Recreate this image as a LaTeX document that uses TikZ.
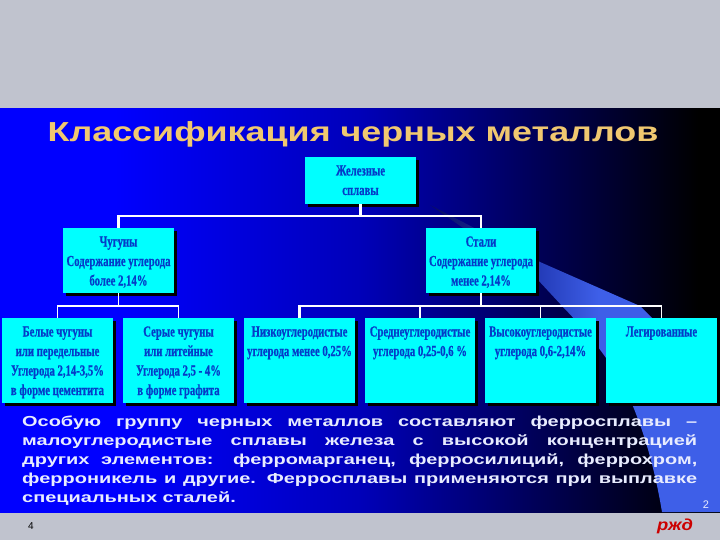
\documentclass[tikz,border=0pt]{standalone}
\usepackage{fontspec}
\usetikzlibrary{shadows,calc}
\setmainfont{Liberation Serif}
\newfontfamily\boxfont[FakeStretch=0.70,FakeBold=0.5]{Liberation Serif Bold}
\newfontfamily\titlefont[FakeStretch=1.305]{Liberation Sans Bold}
\newfontfamily\parafont[FakeStretch=1.375]{Liberation Sans Bold}
\newfontfamily\smallfont{Liberation Sans}
\newfontfamily\logofont[FakeStretch=1.15]{Liberation Sans Bold Italic}
\definecolor{slidegray}{RGB}{192,195,206}
\definecolor{boxcyan}{RGB}{0,255,255}
\definecolor{boxtext}{RGB}{5,60,200}
\definecolor{titlegold}{RGB}{240,200,112}
\definecolor{wedge}{RGB}{62,95,232}
\definecolor{paper}{RGB}{232,236,255}
\definecolor{bandA}{RGB}{0,0,185}
\definecolor{bandB}{RGB}{0,0,85}
\definecolor{wedgeA}{RGB}{8,12,100}
\definecolor{wedgeB}{RGB}{36,60,185}
\pgfdeclarehorizontalshading{bandshade}{100bp}{
  color(0bp)=(blue); color(25bp)=(blue); color(33bp)=(blue);
  color(50bp)=(bandA);
  color(62.5bp)=(bandB);
  color(73.5bp)=(black); color(100bp)=(black)}
\pgfdeclarehorizontalshading{wedgeshade}{100bp}{
  color(0bp)=(wedgeA);
  color(25bp)=(wedgeA);
  color(44bp)=(wedgeB);
  color(54bp)=(wedge); color(100bp)=(wedge)}
\newcommand{\boxbody}[3]{\parbox[c][#2pt][t]{#1pt}{\centering\boxfont\fontsize{15.3}{19.5}\selectfont #3\par}}
\newcommand{\fl}{\rule{0pt}{18.5pt}}
\tikzset{
  cbox/.style={fill=boxcyan,inner sep=0pt,outer sep=0pt,text=boxtext,
    drop shadow={shadow xshift=3pt,shadow yshift=-3pt,fill=black,opacity=1}},
  wire/.style={draw=white,line width=1.7pt},
  wirethick/.style={draw=white,line width=2.3pt},
  para/.style={anchor=base west,inner sep=0pt,text=paper,font=\parafont\fontsize{14.5}{16}\selectfont},
}
\begin{document}
\begin{tikzpicture}[x=1pt,y=-1pt]
\useasboundingbox (0,0) rectangle (720,540);
\fill[slidegray] (0,0) rectangle (720,540);
% band
\shade[shading=bandshade] (0,109) rectangle (720,512);
% wedge
\shade[shading=wedgeshade]
  (430,205) -- (540,262) -- (640,306) -- (720,385) -- (720,512) -- (662,512)
  .. controls (655,470) and (645,435) .. (632,404)
  .. controls (615,365) and (590,335) .. (563,307) -- (538,280) -- cycle;
% title
\node[anchor=base,inner sep=0pt,text=titlegold,font=\titlefont\fontsize{27.5}{30}\selectfont] (title) at (353,142)
  {Классификация черных металлов};
% boxes
\node[cbox] (root) at (360.5,180.5) {\boxbody{111}{47}{\fl Железные\\сплавы}};
\node[cbox] (chug) at (118.5,260.5) {\boxbody{111}{65}{\fl Чугуны\\Содержание углерода\\более 2,14\%}};
\node[cbox] (stal) at (481,260.5) {\boxbody{110}{65}{\fl Стали\\Содержание углерода\\менее 2,14\%}};
\node[cbox] (b1) at (57.5,360.5) {\boxbody{111}{85}{\fl Белые чугуны\\или передельные\\Углерода 2,14-3,5\%\\в форме цементита}};
\node[cbox] (b2) at (178.5,360.5) {\boxbody{111}{85}{\fl Серые чугуны\\или литейные\\Углерода 2,5 - 4\%\\в форме графита}};
\node[cbox] (b3) at (299.5,360.5) {\boxbody{111}{85}{\fl Низкоуглеродистые\\углерода менее 0,25\%}};
\node[cbox] (b4) at (420,360.5) {\boxbody{110}{85}{\fl Среднеуглеродистые\\углерода 0,25-0,6 \%}};
\node[cbox] (b5) at (540.5,360.5) {\boxbody{111}{85}{\fl Высокоуглеродистые\\углерода 0,6-2,14\%}};
\node[cbox] (b6) at (661.5,360.5) {\boxbody{111}{85}{\fl Легированные}};
% connectors
\coordinate (j0) at (360.5,216);
\coordinate (j1) at (118.5,306);
\coordinate (j2) at (481,306);
\draw[wirethick] (root.south) -- (j0);
\draw[wirethick] (chug.north) |- (j0);
\draw[wirethick] (stal.north) |- (j0);
\draw[wire] (chug.south) -- (j1);
\draw[wire] (b1.north) |- (j1);
\draw[wire] (b2.north) |- (j1);
\draw[wirethick] (stal.south) -- (j2);
\draw[wirethick] (b3.north) |- (j2);
\draw[wire] (b4.north) |- (j2);
\draw[wire] (b5.north) |- (j2);
\draw[wire] (b6.north) |- (j2);
% paragraph
\node[para] (p1) at (22,426) {\makebox[675pt][s]{Особую группу черных металлов составляют ферросплавы –}};
\node[para] (p2) at (22,445) {\makebox[675pt][s]{малоуглеродистые сплавы железа с высокой концентрацией}};
\node[para] (p3) at (22,464) {\makebox[675pt][s]{других элементов: ферромарганец, ферросилиций, феррохром,}};
\node[para] (p4) at (22,483) {\makebox[675pt][s]{ферроникель и другие. Ферросплавы применяются при выплавке}};
\node[para] (p5) at (22,502) {специальных сталей.};
% page numbers and logo
\node[inner sep=0pt,text=paper,font=\smallfont\fontsize{11}{13}\selectfont] (pg2) at (706,505) {2};
\node[inner sep=0pt,text=black,font=\smallfont\fontsize{10}{12}\selectfont] (pg4) at (31,526) {4};
\node[inner sep=0pt,text=red!80!black,font=\logofont\fontsize{16}{18}\selectfont] (logo) at (675,526) {ржд};
\end{tikzpicture}
\end{document}
